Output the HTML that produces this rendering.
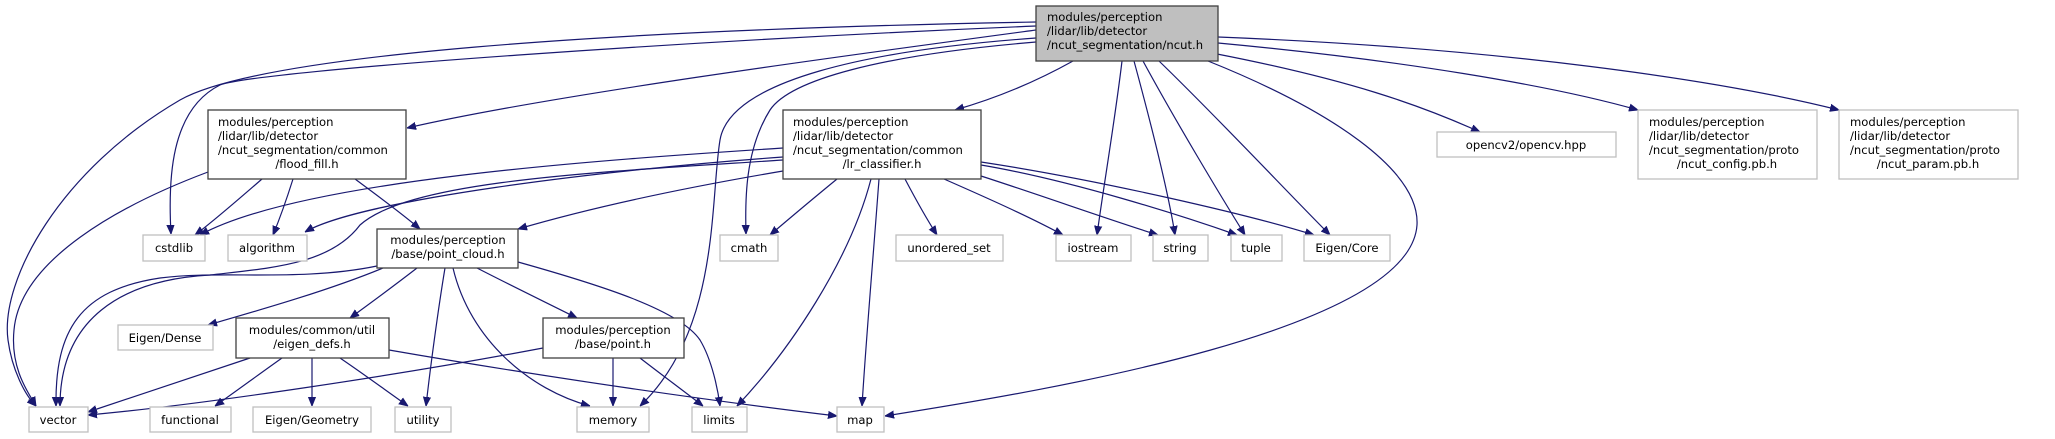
<!DOCTYPE html>
<html><head><meta charset="utf-8"><style>
html,body{margin:0;padding:0;background:#fff;}
svg{display:block;}
text{font-family:"DejaVu Sans","Liberation Sans",sans-serif;font-size:11.6px;fill:#000;}
.e{fill:none;stroke:#191970;stroke-width:1.2;}
.a{fill:#191970;stroke:#191970;}
.n{fill:#fff;stroke:#404040;stroke-width:1.3;}
.g{fill:#fff;stroke:#bfbfbf;stroke-width:1.3;}
</style></head><body>
<svg width="2055" height="439" viewBox="0 0 2055 439" xmlns="http://www.w3.org/2000/svg">
<defs><marker id="m" viewBox="0 0 10 10" refX="10" refY="5" markerWidth="9" markerHeight="9" markerUnits="userSpaceOnUse" orient="auto"><path d="M0,1 L10,5 L0,9 z" class="a"/></marker></defs>
<g marker-end="url(#m)">
<!-- ncut.h edges -->
<path class="e" d="M1036,30 C850,55 550,95 407,128"/>
<path class="e" d="M1073,61 C1030,85 990,100 955,110"/>
<path class="e" d="M1036,22 C600,30 260,55 180,100 C60,170 0,280 8,340 C12,370 25,395 36,406"/>
<path class="e" d="M1036,26 C700,40 260,70 220,85 C170,110 168,180 171,234"/>
<path class="e" d="M1036,38 C870,50 730,80 720,140 C710,200 720,330 640,406"/>
<path class="e" d="M1036,42 C880,55 790,80 770,110 C745,150 745,200 746,234"/>
<path class="e" d="M1122,61 C1115,120 1103,190 1097,235"/>
<path class="e" d="M1134,61 C1150,120 1168,190 1175,235"/>
<path class="e" d="M1143,61 C1175,120 1220,195 1245,235"/>
<path class="e" d="M1159,61 C1220,120 1290,195 1330,235"/>
<path class="e" d="M1208,61 C1330,110 1420,170 1417,225 C1410,330 1050,390 885,416"/>
<path class="e" d="M1217,54 C1350,80 1420,105 1480,132"/>
<path class="e" d="M1218,43 C1400,60 1550,85 1638,110"/>
<path class="e" d="M1218,37 C1500,48 1720,80 1839,110"/>
<!-- flood_fill edges -->
<path class="e" d="M208,172 C120,205 20,260 14,330 C10,370 30,395 36,406"/>
<path class="e" d="M262,179 C240,198 215,220 195,235"/>
<path class="e" d="M293,179 C287,198 280,218 273,235"/>
<path class="e" d="M355,179 C378,196 400,212 420,229"/>
<!-- lr_classifier edges -->
<path class="e" d="M783,148 C600,160 300,180 200,235"/>
<path class="e" d="M783,157 C600,170 360,200 305,232"/>
<path class="e" d="M783,160 C600,172 410,180 360,225 C330,265 270,268 210,275 C120,280 60,320 60,406"/>
<path class="e" d="M783,171 C700,185 600,205 518,229"/>
<path class="e" d="M837,179 C815,197 790,218 770,235"/>
<path class="e" d="M871,179 C850,260 790,350 737,406"/>
<path class="e" d="M879,179 C873,260 866,340 862,406"/>
<path class="e" d="M905,179 C915,198 926,218 937,235"/>
<path class="e" d="M944,179 C985,197 1030,217 1063,235"/>
<path class="e" d="M981,176 C1040,195 1110,220 1158,235"/>
<path class="e" d="M981,165 C1070,180 1180,215 1237,235"/>
<path class="e" d="M981,162 C1100,180 1250,215 1314,235"/>
<!-- point_cloud edges -->
<path class="e" d="M377,266 C300,282 220,270 160,278 C80,290 55,330 56,406"/>
<path class="e" d="M383,268 C330,290 260,310 208,325"/>
<path class="e" d="M417,268 C395,285 372,302 350,318"/>
<path class="e" d="M445,268 C438,310 430,370 426,406"/>
<path class="e" d="M453,268 C470,340 530,390 590,406"/>
<path class="e" d="M477,268 C510,285 545,302 577,318"/>
<path class="e" d="M518,262 C600,285 680,310 700,340 C712,360 718,390 720,406"/>
<!-- eigen_defs edges -->
<path class="e" d="M250,358 C190,378 130,398 88,412"/>
<path class="e" d="M282,358 C258,375 235,392 215,406"/>
<path class="e" d="M312,358 L312,406"/>
<path class="e" d="M340,358 C365,375 388,392 408,406"/>
<path class="e" d="M389,350 C550,378 720,402 837,416"/>
<!-- point.h edges -->
<path class="e" d="M543,348 C400,375 200,405 88,415"/>
<path class="e" d="M613,358 L613,406"/>
<path class="e" d="M640,358 C662,375 685,392 703,406"/>
</g>
<!-- nodes -->
<rect x="1036" y="6" width="182" height="55" fill="#bfbfbf" stroke="#404040" stroke-width="1.3"/>
<text x="1047" y="21">modules/perception</text><text x="1047" y="35">/lidar/lib/detector</text><text x="1047" y="49">/ncut_segmentation/ncut.h</text>

<rect class="n" x="208" y="110" width="198" height="69"/>
<text x="218" y="126">modules/perception</text><text x="218" y="140">/lidar/lib/detector</text><text x="218" y="154">/ncut_segmentation/common</text><text x="307" y="168" text-anchor="middle">/flood_fill.h</text>

<rect class="n" x="783" y="110" width="198" height="69"/>
<text x="793" y="126">modules/perception</text><text x="793" y="140">/lidar/lib/detector</text><text x="793" y="154">/ncut_segmentation/common</text><text x="882" y="168" text-anchor="middle">/lr_classifier.h</text>

<rect class="g" x="1437" y="132" width="179" height="25"/><text x="1526" y="149" text-anchor="middle">opencv2/opencv.hpp</text>

<rect class="g" x="1638" y="110" width="179" height="69"/>
<text x="1649" y="126">modules/perception</text><text x="1649" y="140">/lidar/lib/detector</text><text x="1649" y="154">/ncut_segmentation/proto</text><text x="1727" y="168" text-anchor="middle">/ncut_config.pb.h</text>

<rect class="g" x="1839" y="110" width="179" height="69"/>
<text x="1850" y="126">modules/perception</text><text x="1850" y="140">/lidar/lib/detector</text><text x="1850" y="154">/ncut_segmentation/proto</text><text x="1928" y="168" text-anchor="middle">/ncut_param.pb.h</text>

<rect class="n" x="377" y="229" width="141" height="39"/>
<text x="448" y="244" text-anchor="middle">modules/perception</text><text x="448" y="258" text-anchor="middle">/base/point_cloud.h</text>

<rect class="n" x="236" y="318" width="153" height="40"/>
<text x="312" y="334" text-anchor="middle">modules/common/util</text><text x="312" y="348" text-anchor="middle">/eigen_defs.h</text>

<rect class="n" x="543" y="318" width="141" height="40"/>
<text x="613" y="334" text-anchor="middle">modules/perception</text><text x="613" y="348" text-anchor="middle">/base/point.h</text>

<g>
<rect class="g" x="143" y="235" width="62" height="26"/><text x="174" y="252" text-anchor="middle">cstdlib</text>
<rect class="g" x="228" y="235" width="79" height="26"/><text x="267" y="252" text-anchor="middle">algorithm</text>
<rect class="g" x="720" y="235" width="58" height="26"/><text x="749" y="252" text-anchor="middle">cmath</text>
<rect class="g" x="896" y="235" width="107" height="26"/><text x="949" y="252" text-anchor="middle">unordered_set</text>
<rect class="g" x="1056" y="235" width="75" height="26"/><text x="1093" y="252" text-anchor="middle">iostream</text>
<rect class="g" x="1153" y="235" width="55" height="26"/><text x="1180" y="252" text-anchor="middle">string</text>
<rect class="g" x="1231" y="235" width="51" height="26"/><text x="1256" y="252" text-anchor="middle">tuple</text>
<rect class="g" x="1304" y="235" width="86" height="26"/><text x="1347" y="252" text-anchor="middle">Eigen/Core</text>
<rect class="g" x="118" y="325" width="95" height="25"/><text x="165" y="342" text-anchor="middle">Eigen/Dense</text>
<rect class="g" x="29" y="407" width="59" height="25"/><text x="58" y="424" text-anchor="middle">vector</text>
<rect class="g" x="150" y="407" width="81" height="25"/><text x="190" y="424" text-anchor="middle">functional</text>
<rect class="g" x="253" y="407" width="118" height="25"/><text x="312" y="424" text-anchor="middle">Eigen/Geometry</text>
<rect class="g" x="395" y="407" width="56" height="25"/><text x="423" y="424" text-anchor="middle">utility</text>
<rect class="g" x="577" y="407" width="72" height="25"/><text x="613" y="424" text-anchor="middle">memory</text>
<rect class="g" x="692" y="407" width="55" height="25"/><text x="719" y="424" text-anchor="middle">limits</text>
<rect class="g" x="837" y="407" width="47" height="25"/><text x="860" y="424" text-anchor="middle">map</text>
</g>
</svg>
</body></html>
